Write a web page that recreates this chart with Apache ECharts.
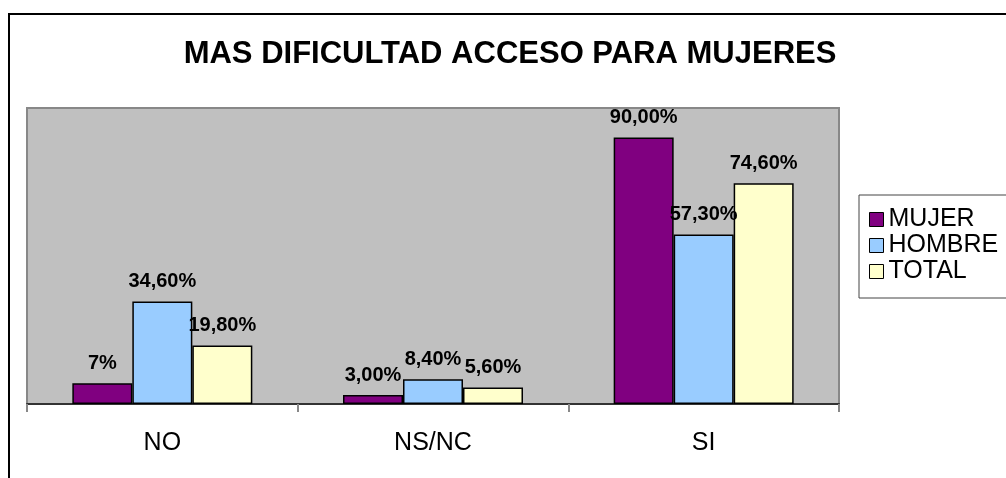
<!DOCTYPE html>
<html>
<head>
<meta charset="utf-8">
<script src="https://cdn.jsdelivr.net/npm/echarts@6/dist/echarts.min.js"></script>
<style>
  html, body { margin: 0; padding: 0; background: #fff; }
  #chart { width: 1006px; height: 478px; }
</style>
</head>
<body>
<div id="chart"></div>
<script>
var categories = ['NO', 'NS/NC', 'SI'];
var seriesNames = ['MUJER', 'HOMBRE', 'TOTAL'];
var mujer = [7, 3, 90];
var hombre = [34.6, 8.4, 57.3];
var total = [19.8, 5.6, 74.6];
var mujerLabels = ['7%', '3,00%', '90,00%'];
var hombreLabels = ['34,60%', '8,40%', '57,30%'];
var totalLabels = ['19,80%', '5,60%', '74,60%'];
var colors = ['#800080', '#99CCFF', '#FFFFCC'];

function makeSeries(name, values, labels, color) {
    return {
        name: name,
        type: 'bar',
        data: values,
        barGap: '0%',
        barCategoryGap: '33.5%',
        itemStyle: {
            color: color,
            borderColor: '#000',
            borderWidth: 1.5
        },
        label: {
            show: true,
            position: 'top',
            distance: 10,
            color: '#000',
            fontFamily: 'Liberation Sans, Arial, sans-serif',
            fontWeight: 'bold',
            fontSize: 20,
            formatter: function (p) { return labels[p.dataIndex]; }
        }
    };
}

var myChart = echarts.init(document.getElementById('chart'));
myChart.setOption({
    animation: false,
    color: colors,
    textStyle: { fontFamily: 'Liberation Sans, Arial, sans-serif' },
    title: {
        text: 'MAS DIFICULTAD ACCESO PARA MUJERES',
        left: 510,
        top: 39,
        padding: 0,
        textAlign: 'center',
        textStyle: {
            fontFamily: 'Liberation Sans, Arial, sans-serif',
            fontWeight: 'bold',
            fontSize: 31,
            color: '#000'
        }
    },
    graphic: [{
        type: 'rect',
        shape: { x: 9, y: 14, width: 1010, height: 480 },
        style: { fill: 'none', stroke: '#000', lineWidth: 2 },
        z: 100
    }],
    legend: {
        orient: 'vertical',
        left: 859,
        top: 195,
        padding: [12, 10, 14, 10],
        itemGap: 1,
        itemWidth: 14,
        itemHeight: 14,
        icon: 'rect',
        backgroundColor: '#fff',
        borderColor: '#444',
        borderWidth: 1,
        borderRadius: 0,
        data: seriesNames,
        itemStyle: { borderColor: '#000', borderWidth: 1 },
        textStyle: {
            fontFamily: 'Liberation Sans, Arial, sans-serif',
            fontSize: 25,
            lineHeight: 25,
            color: '#000'
        }
    },
    grid: {
        left: 27,
        right: 167,
        top: 108,
        bottom: 74,
        show: true,
        backgroundColor: '#C0C0C0',
        borderColor: '#888',
        borderWidth: 2
    },
    xAxis: {
        type: 'category',
        data: categories,
        axisLine: { lineStyle: { color: '#333', width: 2 } },
        axisTick: { show: true, length: 8, lineStyle: { color: '#888', width: 2 } },
        axisLabel: {
            margin: 27,
            fontSize: 25,
            color: '#000',
            fontFamily: 'Liberation Sans, Arial, sans-serif'
        }
    },
    yAxis: {
        type: 'value',
        min: 0,
        max: 100,
        show: false,
        splitLine: { show: false }
    },
    series: [
        makeSeries(seriesNames[0], mujer, mujerLabels, colors[0]),
        makeSeries(seriesNames[1], hombre, hombreLabels, colors[1]),
        makeSeries(seriesNames[2], total, totalLabels, colors[2])
    ]
});
</script>
</body>
</html>
